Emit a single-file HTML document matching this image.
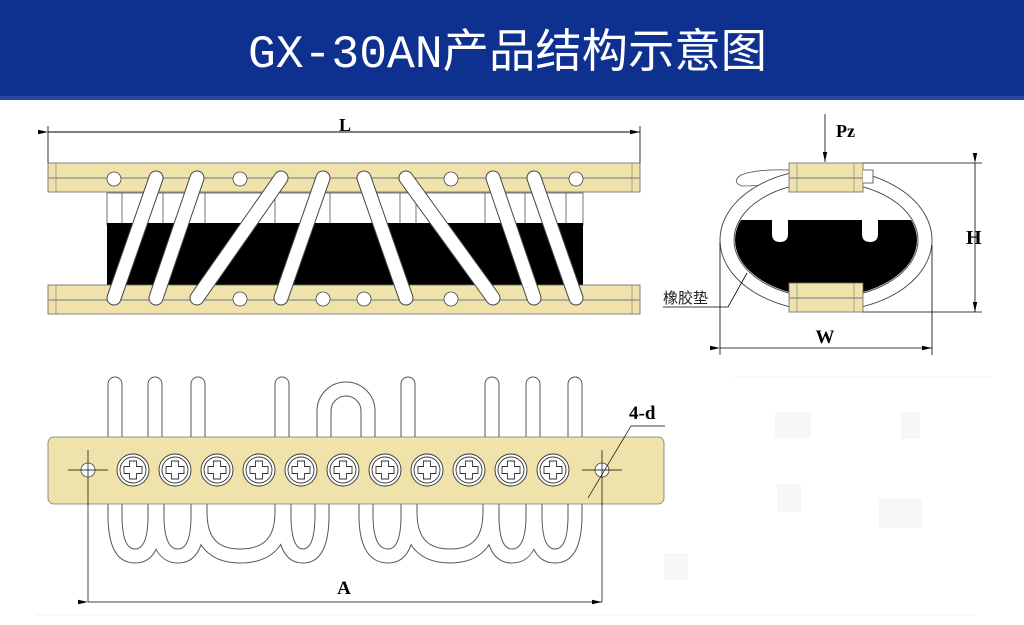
<!DOCTYPE html>
<html><head><meta charset="utf-8"><style>
html,body{margin:0;padding:0;background:#fff;width:1024px;height:625px;overflow:hidden}
svg{display:block}
</style></head><body>
<svg width="1024" height="625" viewBox="0 0 1024 625" xmlns="http://www.w3.org/2000/svg">
<defs>
<marker id="ar" markerWidth="10" markerHeight="6" refX="10" refY="3" orient="auto" markerUnits="userSpaceOnUse"><path d="M0,0.8 L10,3 L0,5.2Z" fill="#000"/></marker>
<clipPath id="inn"><ellipse cx="826" cy="240" rx="91" ry="57"/></clipPath>
</defs>
<rect x="0" y="0" width="1024" height="98" fill="#0e3190"/>
<rect x="0" y="96" width="1024" height="4" fill="#2a4aa0"/>
<text x="248" y="67" fill="#fff" font-family="Liberation Mono, Noto Sans CJK SC, monospace" font-size="46" textLength="519" lengthAdjust="spacingAndGlyphs">GX-30AN<tspan font-family="Noto Sans CJK SC, sans-serif">产品结构示意图</tspan></text>

<!-- front view -->
<line x1="48" y1="132" x2="640" y2="132" stroke="#000" stroke-width="1" marker-start="url(#ar)" marker-end="url(#ar)"/>
<line x1="48" y1="126" x2="48" y2="163" stroke="#000" stroke-width="0.8"/>
<line x1="640" y1="126" x2="640" y2="163" stroke="#000" stroke-width="0.8"/>
<text x="345" y="131" font-family="Liberation Serif, serif" font-weight="bold" font-size="18" text-anchor="middle">L</text>
<g stroke="#555" stroke-width="0.8" fill="#fff">
<rect x="107" y="193" width="476" height="32"/>
<path d="M122 193V225M163 193V225M205 193V225M275 193V225M330 193V225M400 193V225M416 193V225M485 193V225M525 193V225M566 193V225"/>
</g>
<rect x="107" y="223" width="476" height="63" fill="#000"/>
<g fill="#efe2aa" stroke="#666" stroke-width="0.8">
<rect x="48" y="163" width="592" height="29"/>
<rect x="48" y="285" width="592" height="29"/>
</g>
<g stroke="#999" stroke-width="1.6"><line x1="48" y1="178" x2="640" y2="178"/><line x1="48" y1="300" x2="640" y2="300"/></g>
<g stroke="#888" stroke-width="0.7"><line x1="56" y1="163" x2="56" y2="192"/><line x1="632" y1="163" x2="632" y2="192"/><line x1="56" y1="285" x2="56" y2="314"/><line x1="632" y1="285" x2="632" y2="314"/></g>
<g fill="#fff" stroke="#444" stroke-width="0.8">
<circle cx="114" cy="179" r="7"/><circle cx="240" cy="179" r="7"/><circle cx="451" cy="179" r="7"/><circle cx="576" cy="179" r="7"/>
<circle cx="240" cy="299" r="7"/><circle cx="323" cy="299" r="7"/><circle cx="364" cy="299" r="7"/><circle cx="451" cy="299" r="7"/>
</g>
<g stroke-linecap="round">
<g stroke="#444" stroke-width="15">
<path d="M156 178L114 298M197 178L156 298M281 178L197 298M323 178L281 298M364 178L406 298M406 178L493 298M493 178L534 298M534 178L576 298"/>
</g>
<g stroke="#fff" stroke-width="13">
<path d="M156 178L114 298M197 178L156 298M281 178L197 298M323 178L281 298M364 178L406 298M406 178L493 298M493 178L534 298M534 178L576 298"/>
</g>
</g>

<!-- side view -->
<line x1="825" y1="114" x2="825" y2="162" stroke="#000" stroke-width="0.8" marker-end="url(#ar)"/>
<text x="836" y="137" font-family="Liberation Serif, serif" font-weight="bold" font-size="18">Pz</text>
<path d="M790 170 Q755 169 741 175 Q731 182 742 186 Q760 186 790 182" fill="#fff" stroke="#444" stroke-width="0.8"/>
<ellipse cx="826" cy="240" rx="106" ry="71" fill="#fff" stroke="#444" stroke-width="0.9"/>
<ellipse cx="826" cy="240" rx="92" ry="58" fill="#fff" stroke="#444" stroke-width="0.9"/>
<g clip-path="url(#inn)">
<path d="M730 220 L772 220 L772 234 Q772 242 780 242 Q788 242 788 234 L788 220 L862 220 L862 234 Q862 242 870 242 Q878 242 878 234 L878 220 L925 220 L925 300 L730 300Z" fill="#000"/>
</g>
<g fill="#efe2aa" stroke="#666" stroke-width="0.8">
<rect x="789" y="163" width="74" height="29"/>
<rect x="789" y="283" width="74" height="29"/>
</g>
<g stroke="#999" stroke-width="1.6"><line x1="789" y1="178" x2="863" y2="178"/><line x1="789" y1="298" x2="863" y2="298"/></g>
<g stroke="#888" stroke-width="0.7"><path d="M797 163V192M854 163V192M797 283V312M854 283V312"/></g>
<path d="M863 170 L873 170 L873 183 L863 183" fill="#fff" stroke="#444" stroke-width="0.8"/>
<g stroke="#000" stroke-width="0.8" fill="none">
<line x1="863" y1="163" x2="982" y2="163"/><line x1="863" y1="312" x2="982" y2="312"/>
<line x1="975" y1="163" x2="975" y2="312" marker-start="url(#ar)" marker-end="url(#ar)"/>
<line x1="720" y1="242" x2="720" y2="355"/><line x1="932" y1="245" x2="932" y2="355"/>
<line x1="720" y1="348" x2="932" y2="348" marker-start="url(#ar)" marker-end="url(#ar)"/>
<polyline points="663,307 728,307 747,273"/>
</g>
<text x="966" y="244" font-family="Liberation Serif, serif" font-weight="bold" font-size="20">H</text>
<text x="825" y="343" font-family="Liberation Serif, serif" font-weight="bold" font-size="19" text-anchor="middle">W</text>
<text x="663" y="303" font-family="Liberation Sans, Noto Sans CJK SC, sans-serif" font-size="15" fill="#222">橡胶垫</text>

<!-- bottom view -->
<g fill="none" stroke-linecap="round">
<g stroke="#555" stroke-width="15">
<path d="M115 437V384M155 437V384M198 437V384M282 437V384M408 437V384M492 437V384M533 437V384M575 437V384"/>
<path d="M324 437V411A22 22 0 0 1 368 411V437"/>
<path d="M115 504V515Q115 556 135 556Q155 556 155 515V504M157 504V515Q157 556 178 556Q198 556 198 515V504M200 504V512Q200 556 240 556Q282 556 282 512V504M284 504V515Q284 556 303 556Q322 556 322 515V504M366 504V515Q366 556 388 556Q408 556 408 515V504M410 504V512Q410 556 450 556Q490 556 490 512V504M492 504V515Q492 556 512 556Q533 556 533 515V504M535 504V515Q535 556 555 556Q575 556 575 515V504"/>
</g>
<g stroke="#fff" stroke-width="13">
<path d="M115 437V384M155 437V384M198 437V384M282 437V384M408 437V384M492 437V384M533 437V384M575 437V384"/>
<path d="M324 437V411A22 22 0 0 1 368 411V437"/>
<path d="M115 504V515Q115 556 135 556Q155 556 155 515V504M157 504V515Q157 556 178 556Q198 556 198 515V504M200 504V512Q200 556 240 556Q282 556 282 512V504M284 504V515Q284 556 303 556Q322 556 322 515V504M366 504V515Q366 556 388 556Q408 556 408 515V504M410 504V512Q410 556 450 556Q490 556 490 512V504M492 504V515Q492 556 512 556Q533 556 533 515V504M535 504V515Q535 556 555 556Q575 556 575 515V504"/>
</g>
</g>
<rect x="48" y="437" width="616" height="67" rx="6" fill="#efe2aa" stroke="#777" stroke-width="0.8"/>
<g fill="#fff" stroke="#444" stroke-width="0.8">
<circle cx="88" cy="470" r="7"/><circle cx="602" cy="470" r="7"/>
</g>
<g stroke="#000" stroke-width="0.7" fill="none">
<path d="M68 470H108M88 450V602M582 470H622M602 450V602"/>
<line x1="88" y1="602" x2="602" y2="602" marker-start="url(#ar)" marker-end="url(#ar)"/>
<path d="M588 498L631 426H665"/>
</g>
<g fill="#fff" stroke="#333" stroke-width="0.9">
<g transform="translate(133,470)"><circle r="16"/><circle r="13"/><path d="M-3.5 -9H3.5V-3.5H9V3.5H3.5V9H-3.5V3.5H-9V-3.5H-3.5Z"/></g>
<g transform="translate(175,470)"><circle r="16"/><circle r="13"/><path d="M-3.5 -9H3.5V-3.5H9V3.5H3.5V9H-3.5V3.5H-9V-3.5H-3.5Z"/></g>
<g transform="translate(217,470)"><circle r="16"/><circle r="13"/><path d="M-3.5 -9H3.5V-3.5H9V3.5H3.5V9H-3.5V3.5H-9V-3.5H-3.5Z"/></g>
<g transform="translate(259,470)"><circle r="16"/><circle r="13"/><path d="M-3.5 -9H3.5V-3.5H9V3.5H3.5V9H-3.5V3.5H-9V-3.5H-3.5Z"/></g>
<g transform="translate(301,470)"><circle r="16"/><circle r="13"/><path d="M-3.5 -9H3.5V-3.5H9V3.5H3.5V9H-3.5V3.5H-9V-3.5H-3.5Z"/></g>
<g transform="translate(343,470)"><circle r="16"/><circle r="13"/><path d="M-3.5 -9H3.5V-3.5H9V3.5H3.5V9H-3.5V3.5H-9V-3.5H-3.5Z"/></g>
<g transform="translate(385,470)"><circle r="16"/><circle r="13"/><path d="M-3.5 -9H3.5V-3.5H9V3.5H3.5V9H-3.5V3.5H-9V-3.5H-3.5Z"/></g>
<g transform="translate(427,470)"><circle r="16"/><circle r="13"/><path d="M-3.5 -9H3.5V-3.5H9V3.5H3.5V9H-3.5V3.5H-9V-3.5H-3.5Z"/></g>
<g transform="translate(469,470)"><circle r="16"/><circle r="13"/><path d="M-3.5 -9H3.5V-3.5H9V3.5H3.5V9H-3.5V3.5H-9V-3.5H-3.5Z"/></g>
<g transform="translate(511,470)"><circle r="16"/><circle r="13"/><path d="M-3.5 -9H3.5V-3.5H9V3.5H3.5V9H-3.5V3.5H-9V-3.5H-3.5Z"/></g>
<g transform="translate(553,470)"><circle r="16"/><circle r="13"/><path d="M-3.5 -9H3.5V-3.5H9V3.5H3.5V9H-3.5V3.5H-9V-3.5H-3.5Z"/></g>
</g>
<text x="629" y="419" font-family="Liberation Serif, serif" font-weight="bold" font-size="19">4-d</text>
<text x="344" y="594" font-family="Liberation Serif, serif" font-weight="bold" font-size="19" text-anchor="middle">A</text>
<g fill="#f6f7f9">
<rect x="775" y="412" width="36" height="26"/><rect x="901" y="412" width="19" height="27"/>
<rect x="777" y="484" width="24" height="28"/><rect x="879" y="499" width="43" height="29"/>
<rect x="664" y="553" width="24" height="27"/>
</g>
<line x1="735" y1="377" x2="992" y2="377" stroke="#f2f2f4"/>
<line x1="35" y1="615" x2="974" y2="615" stroke="#f2f2f4"/>
</svg>
</body></html>
